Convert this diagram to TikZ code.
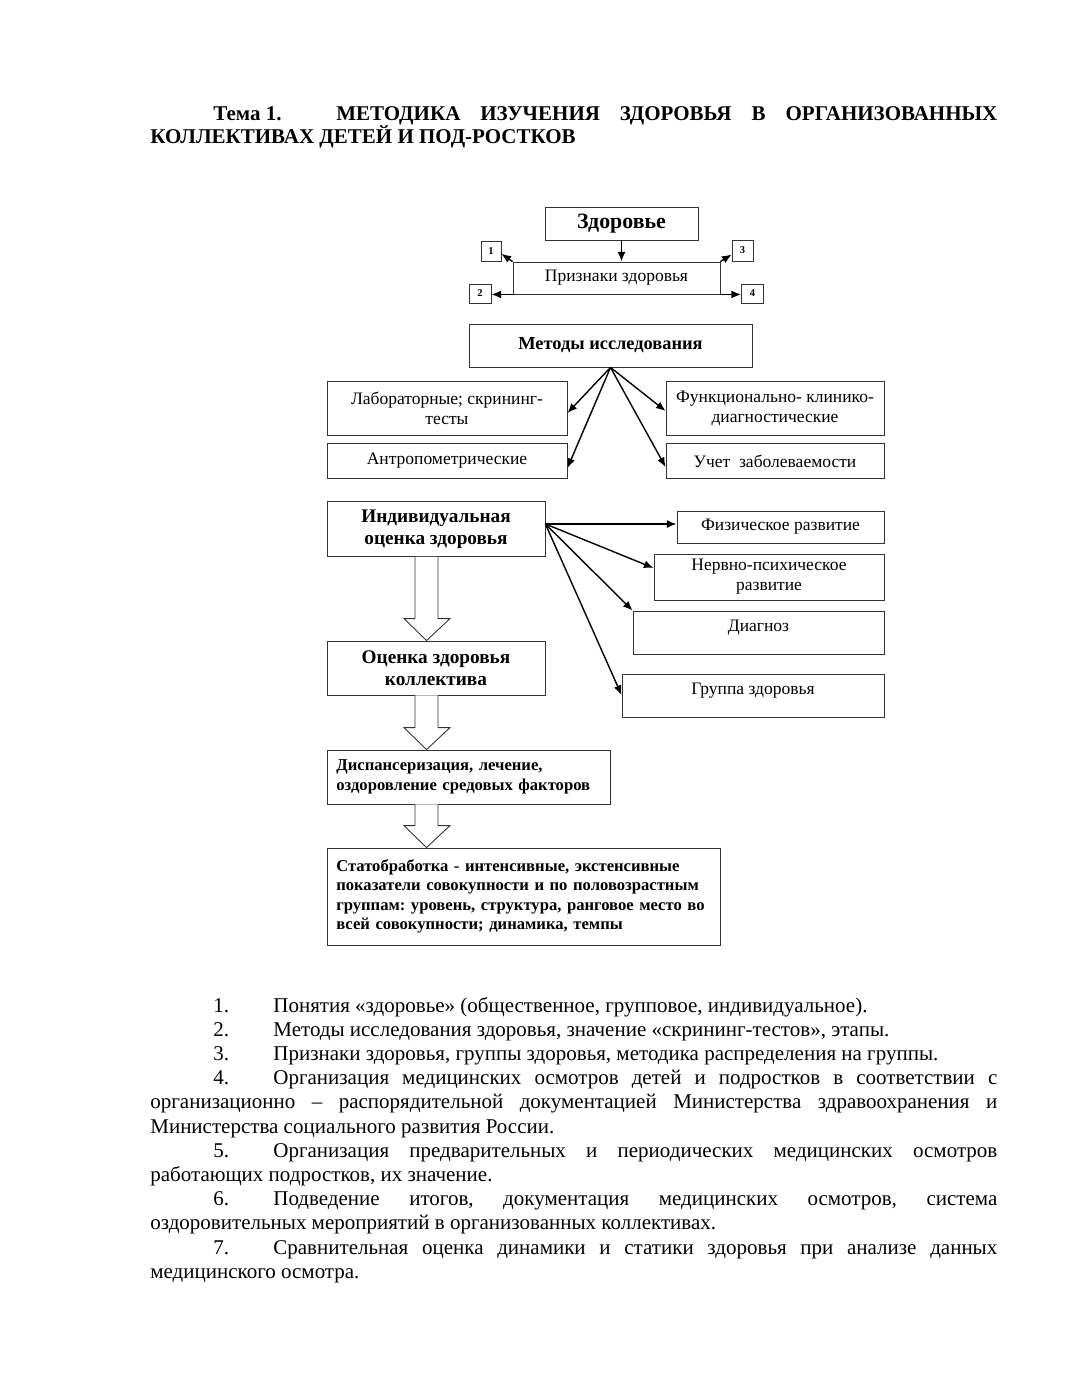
\documentclass[tikz,border=0pt]{standalone}
\usepackage{fontspec}
\setmainfont{Liberation Serif}
\usetikzlibrary{arrows.meta,calc}

% hollow arrow between two boxes of the left column
\newcommand\blockarrow[2]{%
  \draw[hollow] (415,0 |- #1.south) -- ($(415,0 |- #2.north)+(0,-22)$) -- ++(-11,0)
    -- (426.5,0 |- #2.north) -- ($(450,0 |- #2.north)+(0,-22)$) -- ++(-12,0)
    -- (438,0 |- #1.south);}

\begin{document}
\frenchspacing
\begin{tikzpicture}[x=0.571429pt,y=-0.571429pt,
    wh/.style 2 args={minimum width=#1*0.571429pt,minimum height=#2*0.571429pt},
    box/.style={draw=black!80,line width=0.5pt,inner sep=2pt,align=center,
      font=\fontsize{10}{11.4}\selectfont},
    head/.style={box,font=\bfseries\fontsize{11}{12.5}\selectfont},
    num/.style={box,inner sep=0pt,font=\bfseries\fontsize{6}{6}\selectfont},
    note/.style={box,align=left,inner sep=5pt,font=\bfseries\fontsize{9.5}{11.1}\selectfont},
    high/.style={text depth=8pt},
    arr/.style={-{Latex[length=5.5pt,width=4.5pt]},line width=0.8pt},
    hollow/.style={draw=black!80,line width=0.5pt,fill=white}]
  \useasboundingbox (0,0) rectangle (1071,1386);
  \hyphenpenalty=10000 \exhyphenpenalty=10000

  % title
  \node[anchor=base west,text width=484pt,align=justify,inner sep=0pt,
    font=\bfseries\fontsize{12}{13.7}\selectfont] (title) at (150,120)
    {\hspace*{36pt}\makebox[70.3pt][l]{Тема 1.}МЕТОДИКА ИЗУЧЕНИЯ ЗДОРОВЬЯ В ОРГАНИЗОВАННЫХ\linebreak
     КОЛЛЕКТИВАХ ДЕТЕЙ И ПОД-РОСТКОВ};

  % top part
  \node[box,wh={153}{33},font=\bfseries\fontsize{12.5}{14}\selectfont] (health) at (621.5,223.5) {Здоровье};
  \node[box,wh={207}{32}] (signs) at (616.5,278) {Признаки здоровья};
  \node[num,wh={20}{20}] (n1) at (491,251) {1};
  \node[num,wh={21}{21}] (n3) at (742.5,250.5) {3};
  \node[num,wh={22}{19}] (n2) at (480,293.5) {2};
  \node[num,wh={22}{19}] (n4) at (752.5,293.5) {4};
  \draw[arr] (health.south) -- (health.south |- signs.north);
  \draw[arr] (signs.north west) -- (n1.-15);
  \draw[arr] (signs.north east) -- (n3.-160);
  \draw[arr] (signs.south west) -- (n2.east |- signs.south);
  \draw[arr] (signs.south east) -- (n4.west |- signs.south);

  % methods
  \node[box,wh={283}{43},font=\bfseries\fontsize{10.5}{12}\selectfont] (methods) at (610.5,345.5) {Методы исследования};
  \node[box,wh={240}{54}] (lab) at (447,408) {Лабораторные; скрининг-\\тесты};
  \node[box,wh={240}{35}] (antrop) at (447,461) {Антропометрические};
  \node[box,wh={218}{54}] (func) at (775,408) {Функционально- клинико-\\диагностические};
  \node[box,wh={218}{35}] (uchet) at (775,461) {Учет\ \ заболеваемости};
  \draw[arr] (methods.south) -- (lab.east |- 0,413);
  \draw[arr] (methods.south) -- (antrop.east |- 0,468);
  \draw[arr] (methods.south) -- (func.west |- 0,411);
  \draw[arr] (methods.south) -- (uchet.west |- 0,467);

  % individual assessment
  \node[head,wh={218}{55}] (ind) at (436,529) {Индивидуальная\\оценка здоровья};
  \node[box,wh={207}{32}] (phys) at (780.5,527) {Физическое развитие};
  \node[box,wh={230}{46}] (nerv) at (769,577) {Нервно-психическое\\развитие};
  \node[box,high,wh={251}{43}] (diag) at (758.5,632.5) {Диагноз};
  \node[box,high,wh={262}{43}] (group) at (753,695.5) {Группа здоровья};
  \coordinate (fan) at (ind.east |- 0,524);
  \draw[arr] (fan) -- (phys.west |- fan);
  \draw[arr] (fan) -- (nerv.west |- 0,568);
  \draw[arr] (fan) -- (diag.north west);
  \draw[arr] (fan) -- (group.west |- 0,695);

  % left column
  \node[head,wh={218}{54}] (est) at (436,668) {Оценка здоровья\\коллектива};
  \node[note,wh={283}{54},text width=151pt] (disp) at (468.5,777)
    {Диспансеризация, лечение,\\оздоровление средовых факторов};
  \node[note,wh={393}{97},text width=214pt] (stat) at (523.5,896.5)
    {Статобработка - интенсивные, экстенсивные\\показатели совокупности и по половозрастным\\
     группам: уровень, структура, ранговое место во\\всей совокупности; динамика, темпы};
  \blockarrow{ind}{est}
  \blockarrow{est}{disp}
  \blockarrow{disp}{stat}

  % questions
  \node[anchor=base west,text width=484pt,align=justify,inner sep=0pt,
    font=\fontsize{12}{13.83}\selectfont] (topics) at (150,1012) {%
    \hspace*{36pt}\makebox[34.3pt][l]{1.}Понятия «здоровье» (общественное, групповое, индивидуальное).\par
    \hspace*{36pt}\makebox[34.3pt][l]{2.}Методы исследования здоровья, значение «скрининг-тестов», этапы.\par
    \hspace*{36pt}\makebox[34.3pt][l]{3.}Признаки здоровья, группы здоровья, методика распределения на группы.\par
    \hspace*{36pt}\makebox[34.3pt][l]{4.}Организация медицинских осмотров детей и подростков в соответствии с\linebreak
      организационно – распорядительной документацией Министерства здравоохранения и\linebreak
      Министерства социального развития России.\par
    \hspace*{36pt}\makebox[34.3pt][l]{5.}Организация предварительных и периодических медицинских осмотров\linebreak
      работающих подростков, их значение.\par
    \hspace*{36pt}\makebox[34.3pt][l]{6.}Подведение итогов, документация медицинских осмотров, система\linebreak
      оздоровительных мероприятий в организованных коллективах.\par
    \hspace*{36pt}\makebox[34.3pt][l]{7.}Сравнительная оценка динамики и статики здоровья при анализе данных\linebreak
      медицинского осмотра.};
\end{tikzpicture}
\end{document}
